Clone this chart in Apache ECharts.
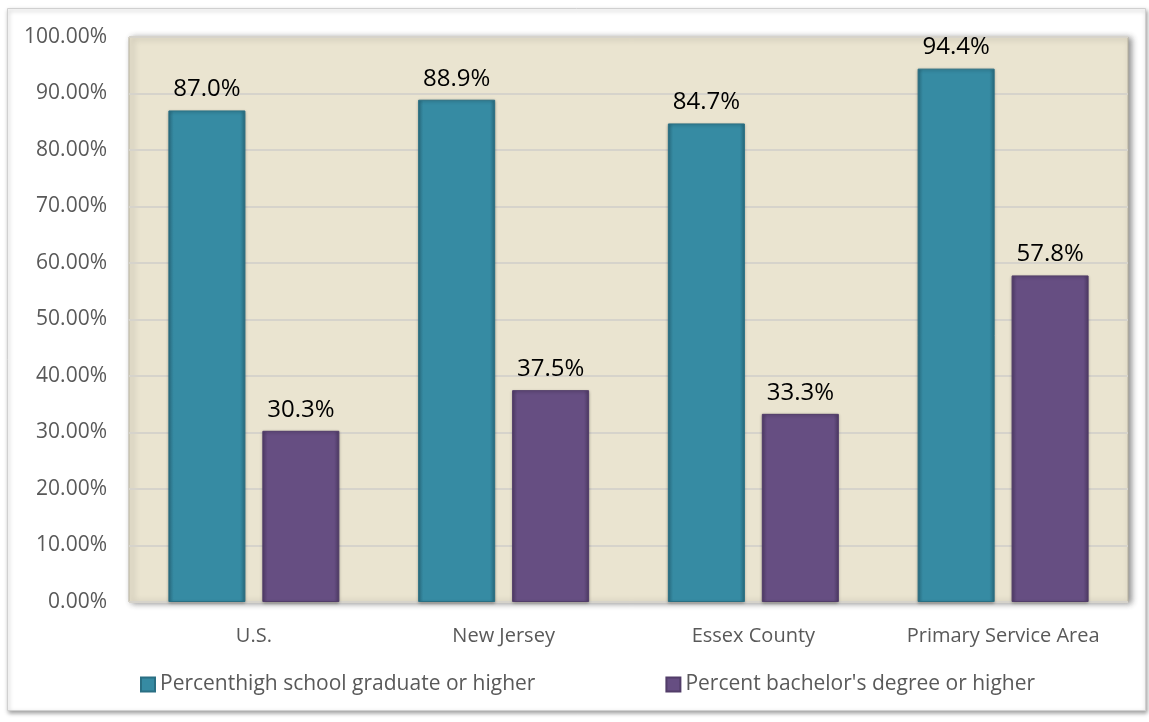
<!DOCTYPE html>
<html>
<head>
<meta charset="utf-8">
<script src="https://cdn.jsdelivr.net/npm/echarts@6/dist/echarts.min.js"></script>
<style>
  html, body { margin: 0; padding: 0; background: #fff; }
  #chart { width: 1149px; height: 722px; }
</style>
</head>
<body>
<div id="chart"></div>
<script>
// data
var categories = ['U.S.', 'New Jersey', 'Essex County', 'Primary Service Area']
var highSchool = [87.0, 88.9, 84.7, 94.4]
var bachelor = [30.3, 37.5, 33.3, 57.8]
var seriesNames = ['Percenthigh school graduate or higher', "Percent bachelor's degree or higher"]

var chart = echarts.init(document.getElementById('chart'))

// fake the bevel: slightly darker edges
function barColor(edge, mid) {
  return new echarts.graphic.LinearGradient(0, 0, 1, 0, [
    { offset: 0, color: edge },
    { offset: 0.07, color: mid },
    { offset: 0.93, color: mid },
    { offset: 1, color: edge }
  ])
}

function pct(p) { return p.value.toFixed(1) + '%' }

chart.setOption({
  backgroundColor: '#fff',
  textStyle: { fontFamily: 'Open Sans, Noto Sans, sans-serif' },
  graphic: [
    // outer frame
    {
      type: 'rect',
      left: 7, top: 8,
      shape: { width: 1138, height: 702 },
      style: { fill: '#fff', stroke: '#d0d0d0', lineWidth: 1, shadowBlur: 4, shadowColor: 'rgba(0,0,0,0.35)', shadowOffsetX: 1, shadowOffsetY: 2 },
      z: -10
    }
  ],
  grid: {
    left: 129, right: 21, top: 37, bottom: 120,
    show: true,
    backgroundColor: '#eae4d0',
    borderColor: '#b8b2a0',
    borderWidth: 1,
    shadowColor: 'rgba(0,0,0,0.45)',
    shadowBlur: 6,
    shadowOffsetX: 3,
    shadowOffsetY: 1
  },
  legend: {
    bottom: 22,
    left: 135,
    itemWidth: 14,
    itemHeight: 14,
    itemGap: 130,
    icon: 'rect',
    textStyle: { color: '#595959', fontSize: 21 },
    data: seriesNames
  },
  xAxis: {
    type: 'category',
    data: categories,
    axisLine: { show: false },
    axisTick: { show: false },
    axisLabel: { color: '#595959', fontSize: 20, margin: 24, interval: 0 }
  },
  yAxis: {
    type: 'value',
    min: 0, max: 100, interval: 10,
    axisLine: { show: false },
    axisTick: { show: false },
    axisLabel: {
      color: '#595959', fontSize: 21, margin: 22,
      formatter: function (v) { return v.toFixed(2) + '%' }
    },
    splitLine: { lineStyle: { color: '#d6d3cb', width: 2 } }
  },
  series: [
    {
      name: seriesNames[0],
      type: 'bar',
      data: highSchool,
      barWidth: 77,
      barGap: '22%',
      itemStyle: {
        color: barColor('#2a6f83', '#368ba3'),
        borderColor: '#2a6f83',
        borderWidth: 1,
        shadowColor: 'rgba(0,0,0,0.3)',
        shadowBlur: 3,
        shadowOffsetY: 1
      },
      label: {
        show: true, position: 'top', distance: 9,
        color: '#000', fontSize: 24,
        formatter: pct
      }
    },
    {
      name: seriesNames[1],
      type: 'bar',
      data: bachelor,
      barWidth: 77,
      itemStyle: {
        color: barColor('#523d69', '#664e82'),
        borderColor: '#523d69',
        borderWidth: 1,
        shadowColor: 'rgba(0,0,0,0.3)',
        shadowBlur: 3,
        shadowOffsetY: 1
      },
      label: {
        show: true, position: 'top', distance: 9,
        color: '#000', fontSize: 24,
        formatter: pct
      }
    }
  ]
})
</script>
</body>
</html>
